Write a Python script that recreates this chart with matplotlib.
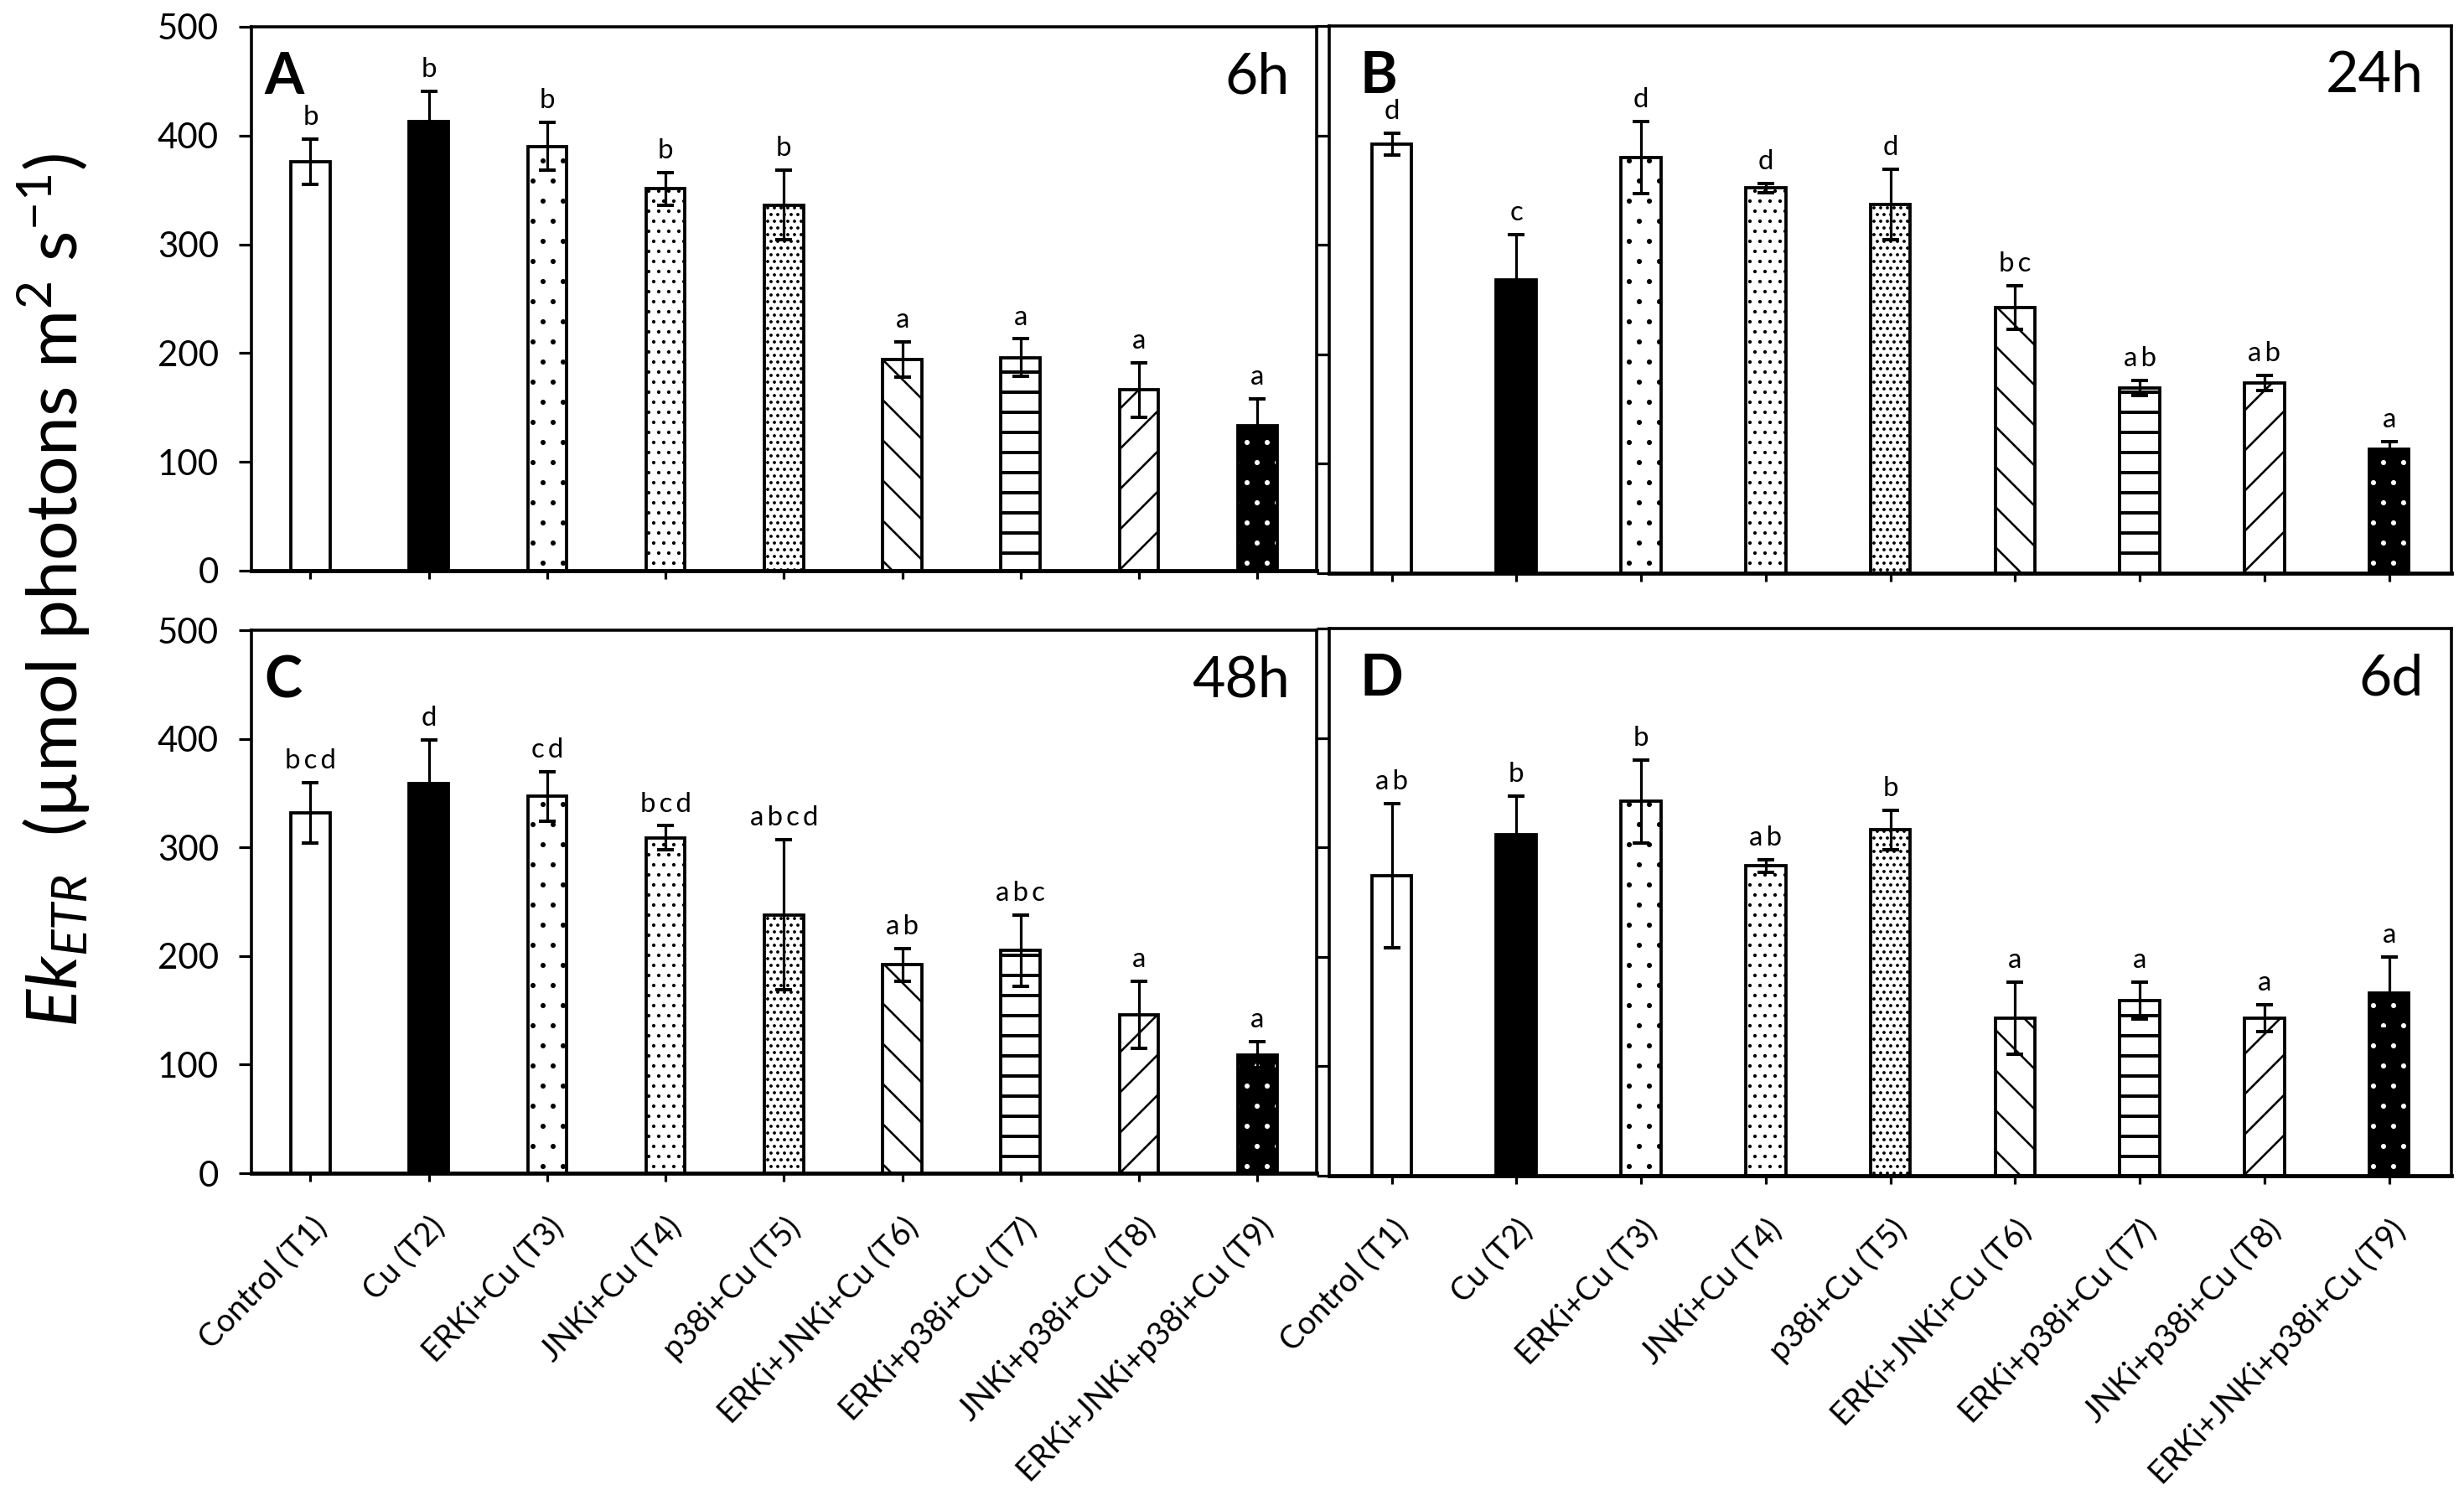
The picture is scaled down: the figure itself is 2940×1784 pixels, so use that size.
import matplotlib
matplotlib.use("Agg")
import matplotlib.pyplot as plt
import numpy as np

# --- data ---
treatments = ["Control (T1)", "Cu (T2)", "ERKi+Cu (T3)", "JNKi+Cu (T4)", "p38i+Cu (T5)",
              "ERKi+JNKi+Cu (T6)", "ERKi+p38i+Cu (T7)", "JNKi+p38i+Cu (T8)",
              "ERKi+JNKi+p38i+Cu (T9)"]

ek_6h = [376, 413, 390, 351, 336, 194, 196, 166, 133]
sd_6h = [21, 28, 22, 15, 32, 16, 17, 25, 25]
sig_6h = ["b", "b", "b", "b", "b", "a", "a", "a", "a"]

ek_24h = [392, 268, 380, 352, 337, 243, 169, 174, 113]
sd_24h = [10, 41, 33, 4, 32, 20, 7, 7, 7]
sig_24h = ["d", "c", "d", "d", "d", "bc", "ab", "ab", "a"]

ek_48h = [332, 359, 347, 309, 238, 192, 205, 146, 109]
sd_48h = [28, 40, 23, 11, 69, 15, 33, 31, 12]
sig_48h = ["bcd", "d", "cd", "bcd", "abcd", "ab", "abc", "a", "a"]

ek_6d = [274, 312, 342, 283, 316, 144, 160, 144, 167]
sd_6d = [66, 35, 38, 6, 18, 33, 17, 12, 33]
sig_6d = ["ab", "b", "b", "ab", "b", "a", "a", "a", "a"]

panel_tags = ["A", "B", "C", "D"]
panel_times = ["6h", "24h", "48h", "6d"]

# --- bar styles (one per treatment) ---
fills = ["white", "black", "white", "white", "white", "white", "white", "white", "black"]
hatches = [None, None, ".", "..", "...", "\\", "-", "/", "."]
hatch_lws = [1.0, 1.0, 0.6, 0.9, 1.1, 1.3, 2.0, 1.3, 0.6]

plt.rcParams["font.family"] = ["Lato", "DejaVu Sans"]
plt.rcParams["mathtext.fontset"] = "custom"
plt.rcParams["mathtext.rm"] = "Lato"
plt.rcParams["mathtext.it"] = "Lato:italic"

DPI = 144
fig = plt.figure(figsize=(2940 / DPI, 1784 / DPI), dpi=DPI)

# axes rectangles [left, bottom, width, height] in figure fractions
rects = [
    [0.1020, 0.6183, 0.4323, 0.3638],
    [0.5395, 0.6166, 0.4554, 0.3660],
    [0.1020, 0.2152, 0.4323, 0.3632],
    [0.5395, 0.2136, 0.4554, 0.3660],
]
all_vals = [ek_6h, ek_24h, ek_48h, ek_6d]
all_sds = [sd_6h, sd_24h, sd_48h, sd_6d]
all_sigs = [sig_6h, sig_24h, sig_48h, sig_6d]

x = np.arange(len(treatments))

for i, rect in enumerate(rects):
    ax = fig.add_axes(rect)
    vals, sds, sigs = all_vals[i], all_sds[i], all_sigs[i]
    width = 0.33 if i % 2 == 0 else 0.32

    for j in range(len(x)):
        with plt.rc_context({"hatch.linewidth": hatch_lws[j]}):
            if j == 8:
                # black bar with white dots
                b = ax.bar(x[j], vals[j], width, color="black", edgecolor="white",
                           linewidth=0, hatch=hatches[j], zorder=2)
                ax.bar(x[j], vals[j], width, fill=False, edgecolor="black",
                       linewidth=1.9, zorder=2)
            else:
                b = ax.bar(x[j], vals[j], width, color=fills[j], edgecolor="black",
                           linewidth=1.9, hatch=hatches[j], zorder=2)
        for p in b:
            if hasattr(p, "set_hatch_linewidth"):
                p.set_hatch_linewidth(hatch_lws[j])

    ax.errorbar(x, vals, yerr=sds, fmt="none", ecolor="black", elinewidth=1.6,
                capsize=5.2, capthick=2.0, zorder=3)

    for j in range(len(x)):
        ax.text(x[j], vals[j] + sds[j] + 13, "\u2009".join(sigs[j]), ha="center",
                va="baseline", fontsize=16.5)

    ax.set_xlim(-0.5, 8.5)
    ax.set_ylim(0, 500)
    ax.set_yticks(np.arange(0, 501, 100))
    ax.set_xticks(x)

    for side in ["left", "top", "right"]:
        ax.spines[side].set_linewidth(1.8)
    ax.spines["bottom"].set_linewidth(2.4)

    ax.tick_params(axis="y", direction="out", length=7.5, width=1.6, pad=12,
                   labelsize=21)
    ax.tick_params(axis="x", direction="out", length=5, width=1.6, pad=18,
                   labelsize=19)

    if i % 2 == 1:
        ax.tick_params(axis="y", labelleft=False)
    if i < 2:
        ax.tick_params(axis="x", labelbottom=False)
    else:
        ax.set_xticklabels(treatments, rotation=46, ha="right", va="top",
                           rotation_mode="anchor")

    ax.text(0.012 if i % 2 == 0 else 0.027, 0.955, panel_tags[i], transform=ax.transAxes,
            fontsize=34, fontweight="bold", ha="left", va="top")
    ax.text(0.975, 0.955, panel_times[i], transform=ax.transAxes,
            fontsize=34, ha="right", va="top")

fig.text(0.022, 0.605, "$Ek_{ETR}$  (\u00b5mol photons m$^{2}$ s$^{-1}$)",
         rotation=90, ha="center", va="center", fontsize=42)

fig.savefig("out.png", dpi=DPI)
